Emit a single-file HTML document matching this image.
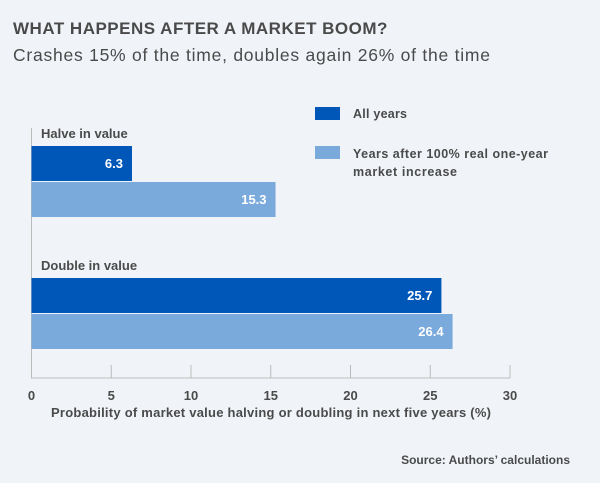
<!DOCTYPE html>
<html><head><meta charset="utf-8"><style>
body{margin:0;background:#f0f4f9;}
svg{display:block;font-family:"Liberation Sans",sans-serif;}
</style></head><body>
<svg width="600" height="483" viewBox="0 0 600 483">
<rect width="600" height="483" fill="#f0f4f9"/>
<text x="13" y="34" font-size="17" font-weight="bold" fill="#4a4a4a" letter-spacing="0.6" textLength="375">WHAT HAPPENS AFTER A MARKET BOOM?</text>
<text x="13" y="61" font-size="17.5" fill="#4a4a4a" textLength="477">Crashes 15% of the time, doubles again 26% of the time</text>
<g id="plot"></g>
<rect x="315" y="107" width="25" height="13" fill="#0057b8"/>
<text x="353" y="118" font-size="12.5" font-weight="bold" fill="#4a4a4a" textLength="54">All years</text>
<rect x="315" y="146" width="25" height="13" fill="#7aa9db"/>
<text x="353" y="158" font-size="12.5" font-weight="bold" fill="#4a4a4a" textLength="195">Years after 100% real one-year</text>
<text x="353" y="176" font-size="12.5" font-weight="bold" fill="#4a4a4a" textLength="104">market increase</text>
<text x="51" y="417" font-size="13" font-weight="bold" fill="#4a4a4a" textLength="440">Probability of market value halving or doubling in next five years (%)</text>
<text x="570" y="464" font-size="12" font-weight="bold" fill="#4a4a4a" text-anchor="end">Source: Authors’ calculations</text>
</svg>
<script>
const categories=["Halve in value","Double in value"];
const allYears=[6.3,25.7];
const afterBoom=[15.3,26.4];
const ticks=[0,5,10,15,20,25,30];
const ns="http://www.w3.org/2000/svg";
const g=document.getElementById('plot');
const x=v=>31.5+v*(510-31.5)/30;
const catTop=[146,278];
function mk(t,a){const e=document.createElementNS(ns,t);for(const k in a)e.setAttribute(k,a[k]);g.appendChild(e);return e;}
const ax=mk('path',{d:`M${x(0)} 128V378H${x(30)}`,stroke:'#bbb',fill:'none','stroke-width':1});


ticks.forEach(t=>{
 const l=mk('line',{x1:x(t),x2:x(t),y1:365,y2:378,stroke:'#bbb'});
 
 
 const tx=mk('text',{x:x(t),y:400,'font-size':13,fill:'#4a4a4a','text-anchor':'middle','font-weight':'bold'});
 tx.textContent=t;
 
 
});
categories.forEach((c,i)=>{
 const y0=catTop[i];
 const lab=mk('text',{x:41,y:y0-8,'font-size':13,fill:'#4a4a4a','font-weight':'bold'});
 lab.textContent=c;
 
 
 [[allYears[i],'#0057b8',y0],[afterBoom[i],'#7aa9db',y0+36]].forEach(([v,col,yy])=>{
  const r=mk('rect',{x:x(0),y:yy,width:x(v)-x(0),height:35,fill:col});
  
  
  const t=mk('text',{x:x(v)-9,y:yy+22,'font-size':13,fill:'#fff','text-anchor':'end','font-weight':'bold'});
  t.textContent=v.toFixed(1);
  
  
 });
});
</script>
</body></html>
